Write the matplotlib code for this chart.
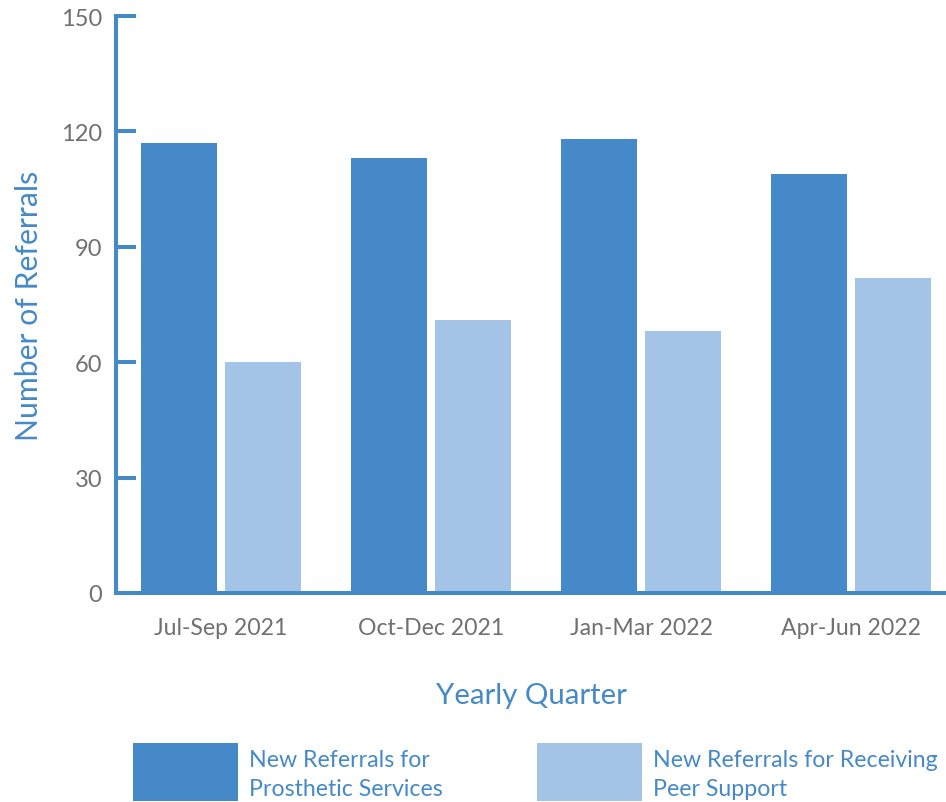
import numpy as np
import matplotlib.pyplot as plt
from matplotlib.patches import Rectangle

plt.rcParams['font.family'] = ['Lato', 'DejaVu Sans']

quarters = ['Jul-Sep 2021', 'Oct-Dec 2021', 'Jan-Mar 2022', 'Apr-Jun 2022']
prosthetic = [117, 113, 118, 109]
peer_support = [60, 71, 68, 82]
series_labels = ['New Referrals for\nProsthetic Services',
                 'New Referrals for Receiving\nPeer Support']
yticks = [0, 30, 60, 90, 120, 150]

dark = '#4589c8'
light = '#a3c4e6'
grey = '#707072'

W, H = 946, 803
fig = plt.figure(figsize=(W / 100, H / 100), dpi=100)
ax = fig.add_axes([116 / W, 1 - 594 / H, 1 - 116 / W, (594 - 17) / H])

x = np.arange(len(quarters))
w = 0.362
ax.bar(x - 0.2, prosthetic, w, color=dark, zorder=2)
ax.bar(x + 0.2, peer_support, w, color=light, zorder=2)

ax.set_xlim(-0.5, 3.452)
ax.set_ylim(0, 150)
ax.set_yticks(yticks)
ax.set_xticks(x)
ax.set_xticklabels(quarters)

for s in ['top', 'right']:
    ax.spines[s].set_visible(False)
for s in ['left', 'bottom']:
    ax.spines[s].set_color(dark)
    ax.spines[s].set_linewidth(2.9)

ax.tick_params(axis='y', direction='in', length=14.5, width=2.9, color=dark,
               labelsize=17, labelcolor=grey, pad=10)
ax.tick_params(axis='x', length=0, labelsize=16.6, labelcolor=grey, pad=17)

ax.set_xlabel('Yearly Quarter', fontsize=21.2, color=dark, labelpad=32)
ax.set_ylabel('Number of Referrals', fontsize=21.7, color=dark, labelpad=13)

# legend: colour swatch with two-line label beside it
legend_items = [(133, dark), (537, light)]
for (x0, col), lab in zip(legend_items, series_labels):
    fig.add_artist(Rectangle((x0 / W, 1 - 802 / H), 105 / W, 58 / H,
                             transform=fig.transFigure, color=col, lw=0))
    fig.text((x0 + 116) / W, 1 - 775 / H, lab, fontsize=16.7, color=dark,
             va='center', ha='left', linespacing=1.45)

fig.savefig('out.png', dpi=100)
